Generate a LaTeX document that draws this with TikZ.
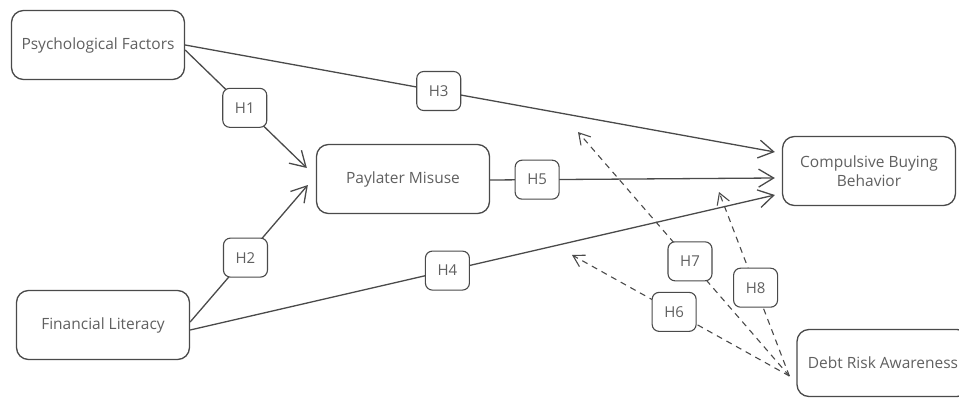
\documentclass[tikz,border=0pt]{standalone}
\usepackage{fontspec}
\setmainfont{Open Sans}
\usetikzlibrary{arrows.meta}
\definecolor{inkline}{HTML}{4A4A4A}
\definecolor{inktext}{HTML}{606060}
\begin{document}
\begin{tikzpicture}[x=1pt,y=-1pt,
  concept/.style={draw=inkline, line width=1.3pt, rounded corners=12pt, fill=white,
    minimum width=173pt, minimum height=69pt, inner sep=2pt, text=inktext,
    font=\fontsize{15.5}{19}\selectfont, align=center},
  hyp/.style={draw=inkline, solid, line width=1.1pt, rounded corners=7pt, fill=white,
    minimum width=44pt, minimum height=39pt, inner sep=1pt, text=inktext,
    font=\fontsize{15}{18}\selectfont},
  path/.style={draw=inkline, line width=1.3pt,
    -{Straight Barb[length=15pt,width=18pt,line width=1.3pt]}},
  moderation/.style={draw=inkline, line width=1.1pt, dash pattern=on 6pt off 5pt,
    -{Straight Barb[length=11pt,width=13pt,line width=1.1pt]}}
]
\useasboundingbox (0,0) rectangle (959,399);

% constructs
\node[concept] (pf)  at (98,45)   {Psychological Factors};
\node[concept] (fl)  at (103,325) {Financial Literacy};
\node[concept] (pm)  at (403,179) {Paylater Misuse};
\node[concept] (cbb) at (869,171) {Compulsive Buying\\Behavior};
\node[concept, minimum width=172pt, minimum height=67pt] (dra) at (883,363) {Debt Risk Awareness};

% direct paths
\draw[path] ([yshift=-5pt]pf.east) -- ([xshift=-9pt,yshift=11pt]pm.west)
  node[hyp, pos=0.49] (h1) {H1};
\draw[path] ([yshift=3pt]fl.east) -- ([xshift=-8pt,yshift=-6pt]pm.west)
  node[hyp, pos=0.47] (h2) {H2};
\draw[path] (pf.east) -- ([xshift=-7pt,yshift=19pt]cbb.west)
  node[hyp, pos=0.43] (h3) {H3};
\draw[path] ([yshift=-5pt]fl.east) -- ([xshift=-7pt,yshift=-24pt]cbb.west)
  node[hyp, pos=0.44] (h4) {H4};
\draw[path] ([yshift=-1pt]pm.east) -- ([xshift=-7pt,yshift=-7pt]cbb.west)
  node[hyp, pos=0.165] (h5) {H5};

% moderating effects of debt risk awareness
\coordinate (src) at ([xshift=-7pt,yshift=-13pt]dra.west);
\coordinate (m6) at (572,255);
\coordinate (m7) at (578,132);
\coordinate (m8) at (719,192);
\draw[moderation] (src) -- (m6) node[hyp, pos=0.53] (h6) {H6};
\draw[moderation] (src) -- (m7) node[hyp, pos=0.47] (h7) {H7};
\draw[moderation] (src) -- (m8) node[hyp, pos=0.48] (h8) {H8};
\end{tikzpicture}
\end{document}
